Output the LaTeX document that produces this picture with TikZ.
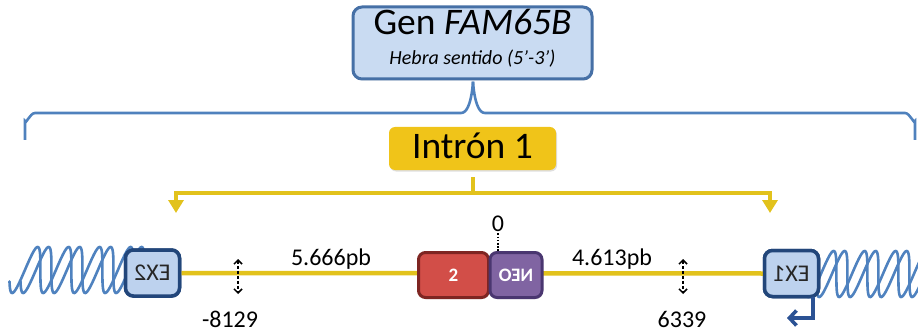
\documentclass[tikz,border=0pt]{standalone}
\usepackage{fontspec}
\setmainfont{Carlito}
\usepackage{graphicx}
\usetikzlibrary{arrows.meta,shadows}

\definecolor{genfill}{HTML}{C9DBF2}
\definecolor{genedge}{HTML}{4670A6}
\definecolor{bracecol}{HTML}{4F81BD}
\definecolor{introncol}{HTML}{F0C419}
\definecolor{strandcol}{HTML}{E2C21C}
\definecolor{exfill}{HTML}{BDD2EE}
\definecolor{exedge}{HTML}{22467A}
\definecolor{redfill}{HTML}{D24E48}
\definecolor{rededge}{HTML}{7E2522}
\definecolor{purfill}{HTML}{8064A2}
\definecolor{puredge}{HTML}{4A3670}
\definecolor{helixcol}{HTML}{4F82BF}
\definecolor{tsscol}{HTML}{2B5294}

\tikzset{
  softshadow/.style={drop shadow={opacity=0.25,shadow xshift=1pt,shadow yshift=-1.5pt}},
  genbox/.style={draw=genedge,line width=3pt,fill=genfill,rounded corners=9pt,
    minimum width=239pt,minimum height=72pt,inner sep=0pt,softshadow},
  intronbox/.style={fill=introncol,rounded corners=6pt,
    minimum width=167pt,minimum height=43pt,inner sep=0pt,softshadow},
  exonbox/.style={draw=exedge,line width=3.5pt,fill=exfill,rounded corners=8pt,
    minimum width=54pt,minimum height=46pt,inner sep=0pt,
    font=\fontsize{24}{26}\selectfont,text=black!85,softshadow},
  cassette/.style={line width=3pt,rounded corners=7pt,minimum height=45pt,
    inner sep=0pt,text=white,font=\bfseries\fontsize{19}{21}\selectfont,softshadow},
  bracepath/.style={draw=bracecol,line width=2.6pt},
  splitpath/.style={draw=strandcol,line width=3.4pt},
  strandline/.style={draw=strandcol,line width=4.5pt},
  helix/.style={draw=helixcol,line width=2.6pt,line cap=round},
  label/.style={font=\fontsize{24}{26}\selectfont,inner sep=0pt,anchor=base},
  distarrow/.style={black,line width=1.5pt,dash pattern=on 3pt off 2pt,
    {Straight Barb[length=4pt,width=8pt,line width=1.5pt]}-{Straight Barb[length=4pt,width=8pt,line width=1.5pt]}},
}

\begin{document}
\begin{tikzpicture}[x=1pt,y=-1pt]
\useasboundingbox (0,0) rectangle (918,334);

% gene title box
\node[genbox] (gen) at (472.5,43) {};
\node[inner sep=0pt,anchor=base,font=\fontsize{37.5}{40}\selectfont] (gentitle) at (472.5,35) {Gen \textit{FAM65B}};
\node[inner sep=0pt,anchor=base,font=\itshape\fontsize{20}{22}\selectfont] (gensub) at (472.5,65) {Hebra sentido (5’-3’)};

% brace spanning the whole gene
\coordinate (braceL) at (25,140);
\coordinate (braceR) at (915,140);
\coordinate (braceTip) at (473,84);
\draw[bracepath] (braceL) -- (25,121) to[out=-90,in=180] (35,113) -- (461,113)
  to[out=0,in=90] (braceTip);
\draw[bracepath] (braceTip) to[out=90,in=180] (485,113) -- (905,113)
  to[out=0,in=-90] (915,121) -- (braceR);

% intron label and its split arrows
\node[intronbox] (intron) at (472.5,148.5) {};
\node[inner sep=0pt,anchor=base,font=\fontsize{37.5}{40}\selectfont] (introntxt) at (472.5,158.5) {Intrón 1};
\coordinate (splitTop) at (473,177);
\coordinate (splitMid) at (473,193);
\coordinate (arrL) at (176,213);
\coordinate (arrR) at (770,213);
\draw[splitpath] (splitTop) -- (splitMid);
\draw[splitpath,{Triangle[length=13pt,width=15pt]}-{Triangle[length=13pt,width=15pt]}]
  (arrL) -- (176,193) -- (770,193) -- (arrR);

% flanking helices: two slanted strands each, shifted by a third of a turn
\begin{scope}
  \clip (0,230) rectangle (150,310);
  \draw[helix] plot[domain=-150:1500,samples=220,smooth]
    ({12 + (\x+150)/360*31 + 5*sin(\x)},{270 - 23*sin(\x)});
  \draw[helix] plot[domain=-150:1500,samples=220,smooth]
    ({23 + (\x+150)/360*31 + 5*sin(\x)},{270 - 23*sin(\x)});
\end{scope}
\begin{scope}
  \clip (795,230) rectangle (918,310);
  \draw[helix] plot[domain=-150:1500,samples=220,smooth]
    ({808 + (\x+150)/360*31 + 5*sin(\x)},{274 - 23*sin(\x)});
  \draw[helix] plot[domain=-150:1500,samples=220,smooth]
    ({819 + (\x+150)/360*31 + 5*sin(\x)},{274 - 23*sin(\x)});
\end{scope}

% exons, cassette and the intron strand
\node[exonbox] (ex2) at (152.5,273) {\reflectbox{EX2}};
\node[exonbox] (ex1) at (791.5,273.5) {\reflectbox{EX1}};
\draw[strandline] (ex2.east) -- (ex1.west);
\node[exonbox] (ex2top) at (ex2) {\reflectbox{EX2}};
\node[exonbox] (ex1top) at (ex1) {\reflectbox{EX1}};
\node[cassette,draw=rededge,fill=redfill,minimum width=70pt] (neo2) at (453.5,275) {2};
\node[cassette,draw=puredge,fill=purfill,minimum width=52pt] (neo) at (516,275) {\reflectbox{NEO}};

% insertion point
\node[label] (zero) at (498,231) {0};
\draw[black,line width=1.6pt,dash pattern=on 1.6pt off 1.6pt] (zero.south) ++(0,2) -- (neo.north -| zero.south);

% distances and positions
\node[label] (len2) at (331,265) {5.666pb};
\node[label] (len1) at (612,265) {4.613pb};
\node[label] (pos2) at (230,327) {-8129};
\node[label] (pos1) at (682,327) {6339};
\coordinate (d2top) at (238,259);
\coordinate (d2bot) at (238,294);
\coordinate (d1top) at (683,259);
\coordinate (d1bot) at (683,294);
\draw[distarrow] (d2top) -- (d2bot);
\draw[distarrow] (d1top) -- (d1bot);

% transcription start
\coordinate (tssEnd) at (787,318);
\draw[draw=tsscol,line width=3.6pt,line cap=round,
  -{Straight Barb[length=7pt,width=15pt,line width=3.6pt]}]
  (ex1.south -| 813,0) -- (813,318) -- (tssEnd);
\end{tikzpicture}
\end{document}
